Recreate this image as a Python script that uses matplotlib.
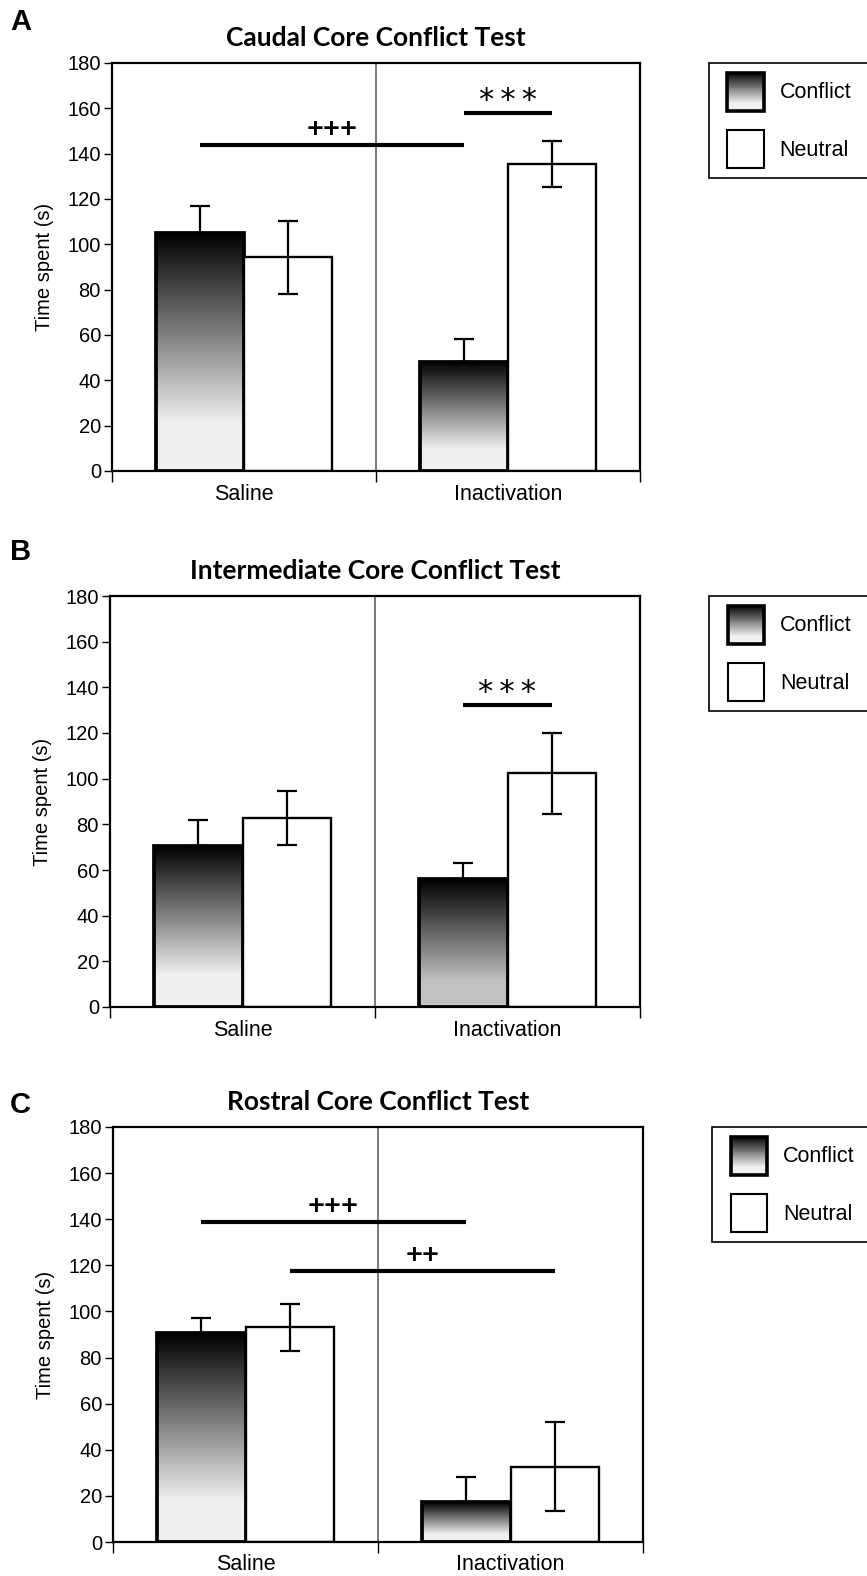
import numpy as np
import matplotlib
matplotlib.use("Agg")
import matplotlib.pyplot as plt
from matplotlib.patches import Rectangle, Patch
from matplotlib.legend_handler import HandlerBase

plt.rcParams['font.family'] = ['Liberation Sans', 'DejaVu Sans']

categories = ['Saline', 'Inactivation']
series_names = ['Conflict', 'Neutral']

titles = ['Caudal Core Conflict Test',
          'Intermediate Core Conflict Test',
          'Rostral Core Conflict Test']
panel_letters = ['A', 'B', 'C']

# mean time spent (s) and SEM, per panel: [saline, inactivation]
conflict_A = [105.2, 48.3]
conflict_err_A = [11.5, 9.8]
neutral_A = [94.2, 135.5]
neutral_err_A = [16.0, 10.2]

conflict_B = [70.5, 55.9]
conflict_err_B = [11.2, 7.0]
neutral_B = [82.9, 102.4]
neutral_err_B = [11.8, 17.7]

conflict_C = [90.5, 17.2]
conflict_err_C = [6.7, 10.9]
neutral_C = [93.1, 32.7]
neutral_err_C = [10.2, 19.2]

# significance bars: (from (series, group), to (series, group), y, label)
sig_A = [((0, 0), (0, 1), 144, '+++'), ((0, 1), (1, 1), 158, '***')]
sig_B = [((0, 1), (1, 1), 132.4, '***')]
sig_C = [((0, 0), (0, 1), 138.8, '+++'), ((1, 0), (1, 1), 117.5, '++')]

yticks = list(range(0, 181, 20))

# figure layout (pixels in a 867x1576 canvas)
W, H = 867, 1576
axes_px = [(112, 640, 63, 471), (110, 640, 596, 1007), (113, 643, 1127, 1542)]
letter_y = [22, 552, 1105]
# light end of the gradient for each conflict bar
grad_end = [[0.94, 0.94], [0.94, 0.76], [0.94, 0.94]]

BAR_W = 0.335
FS = 15.5


def gradient_image(end, frac=0.8, n=256):
    t = np.linspace(0, 1, n)
    g = np.clip(t / frac, 0, 1) * end
    img = np.repeat(g[:, None], 3, axis=1)[:, None, :]
    return img


class GradientPatch(Patch):
    pass


class BoxHandler(HandlerBase):
    """Square legend key, pushed in from the frame edge."""
    def __init__(self, gradient, lw, offset=6.5):
        super().__init__()
        self.gradient = gradient
        self.lw = lw
        self.offset = offset

    def create_artists(self, legend, orig_handle, xdescent, ydescent,
                       width, height, fontsize, trans):
        arts = []
        x0 = -xdescent + self.offset
        w = width - self.offset
        if self.gradient:
            n = 40
            for i in range(n):
                t = (i + 0.5) / n  # from top
                g = min(t / 0.8, 1) * 0.94
                y = -ydescent + height * (1 - (i + 1) / n)
                arts.append(Rectangle((x0, y), w, height / n + 0.3,
                                      facecolor=(g, g, g), edgecolor='none',
                                      transform=trans))
            face = 'none'
        else:
            face = 'white'
        arts.append(Rectangle((x0, -ydescent), w, height, facecolor=face,
                              edgecolor='black', lw=self.lw, transform=trans))
        return arts


fig = plt.figure(figsize=(W / 100, H / 100), dpi=100)

panels = [
    (conflict_A, conflict_err_A, neutral_A, neutral_err_A, sig_A),
    (conflict_B, conflict_err_B, neutral_B, neutral_err_B, sig_B),
    (conflict_C, conflict_err_C, neutral_C, neutral_err_C, sig_C),
]

for p, (conf, conf_err, neut, neut_err, sigs) in enumerate(panels):
    l, r, t, b = axes_px[p]
    ax = fig.add_axes([l / W, 1 - b / H, (r - l) / W, (b - t) / H])

    centers = np.arange(len(categories)) + 0.5
    bar_centers = [centers - BAR_W / 2, centers + BAR_W / 2]

    # conflict bars: gradient fill
    for i, x in enumerate(bar_centers[0]):
        ax.imshow(gradient_image(grad_end[p][i]), aspect='auto',
                  extent=(x - BAR_W / 2, x + BAR_W / 2, 0, conf[i]),
                  origin='upper', zorder=1, interpolation='bilinear')
    ax.bar(bar_centers[0], conf, width=BAR_W, facecolor='none',
           edgecolor='black', lw=2.7, zorder=2)
    ax.errorbar(bar_centers[0], conf, yerr=[np.zeros(len(conf)), conf_err],
                fmt='none', ecolor='black', elinewidth=1.6, capsize=7,
                capthick=1.6, zorder=3)

    # neutral bars
    ax.bar(bar_centers[1], neut, width=BAR_W, facecolor='white',
           edgecolor='black', lw=1.7, zorder=2)
    ax.errorbar(bar_centers[1], neut, yerr=neut_err, fmt='none',
                ecolor='black', elinewidth=1.6, capsize=7, capthick=1.6,
                zorder=3)

    # divider between groups
    ax.axvline(1.0, color='#555555', lw=1.1, zorder=0.5)

    for (s1, g1), (s2, g2), y, label in sigs:
        x1 = bar_centers[s1][g1]
        x2 = bar_centers[s2][g2]
        ax.plot([x1, x2], [y, y], color='black', lw=3, solid_capstyle='butt',
                zorder=4)
        if '*' in label:
            ax.text((x1 + x2) / 2, y + 1.5, '\u2009'.join(label), ha='center',
                    va='baseline', fontsize=22, family='DejaVu Sans')
        else:
            ax.text((x1 + x2) / 2, y + 3.5, label, ha='center', va='baseline',
                    fontsize=21, fontweight='bold', family='Lato')

    ax.set_xlim(0, 2)
    ax.set_ylim(0, 180)
    ax.set_yticks(yticks)
    ax.set_xticks([0, 1, 2])
    ax.set_xticklabels([])
    ax.set_xticks(centers, categories, minor=True)
    ax.tick_params(axis='x', which='major', length=8, width=1, direction='out')
    ax.tick_params(axis='x', which='minor', length=0, pad=9, labelsize=FS)
    ax.tick_params(axis='y', length=6, width=1, direction='out', pad=2,
                   labelsize=14.5)
    for sp in ax.spines.values():
        sp.set_linewidth(1.6)
    ax.set_ylabel('Time spent (s)', fontsize=14.5)
    ax.yaxis.set_label_coords(-0.11, 0.5)
    ax.set_title(titles[p], fontsize=19, fontweight='bold', family='Lato',
                 pad=12)

    handles = [GradientPatch(), Patch()]
    leg = ax.legend(handles, series_names, loc='upper left',
                    bbox_to_anchor=(1.13, 0, 0.4, 1.0), mode='expand',
                    borderaxespad=0, fontsize=FS, handlelength=2.1,
                    handleheight=2.35, labelspacing=0.9, borderpad=0.45,
                    handletextpad=0.75, fancybox=False, framealpha=1,
                    edgecolor='black',
                    handler_map={GradientPatch: BoxHandler(True, 2.6),
                                 Patch: BoxHandler(False, 1.5)})
    leg.get_frame().set_linewidth(1.2)

    fig.text(10 / W, 1 - letter_y[p] / H, panel_letters[p], fontsize=21,
             fontweight='bold', va='center', ha='left')

fig.savefig('out.png', dpi=100)
